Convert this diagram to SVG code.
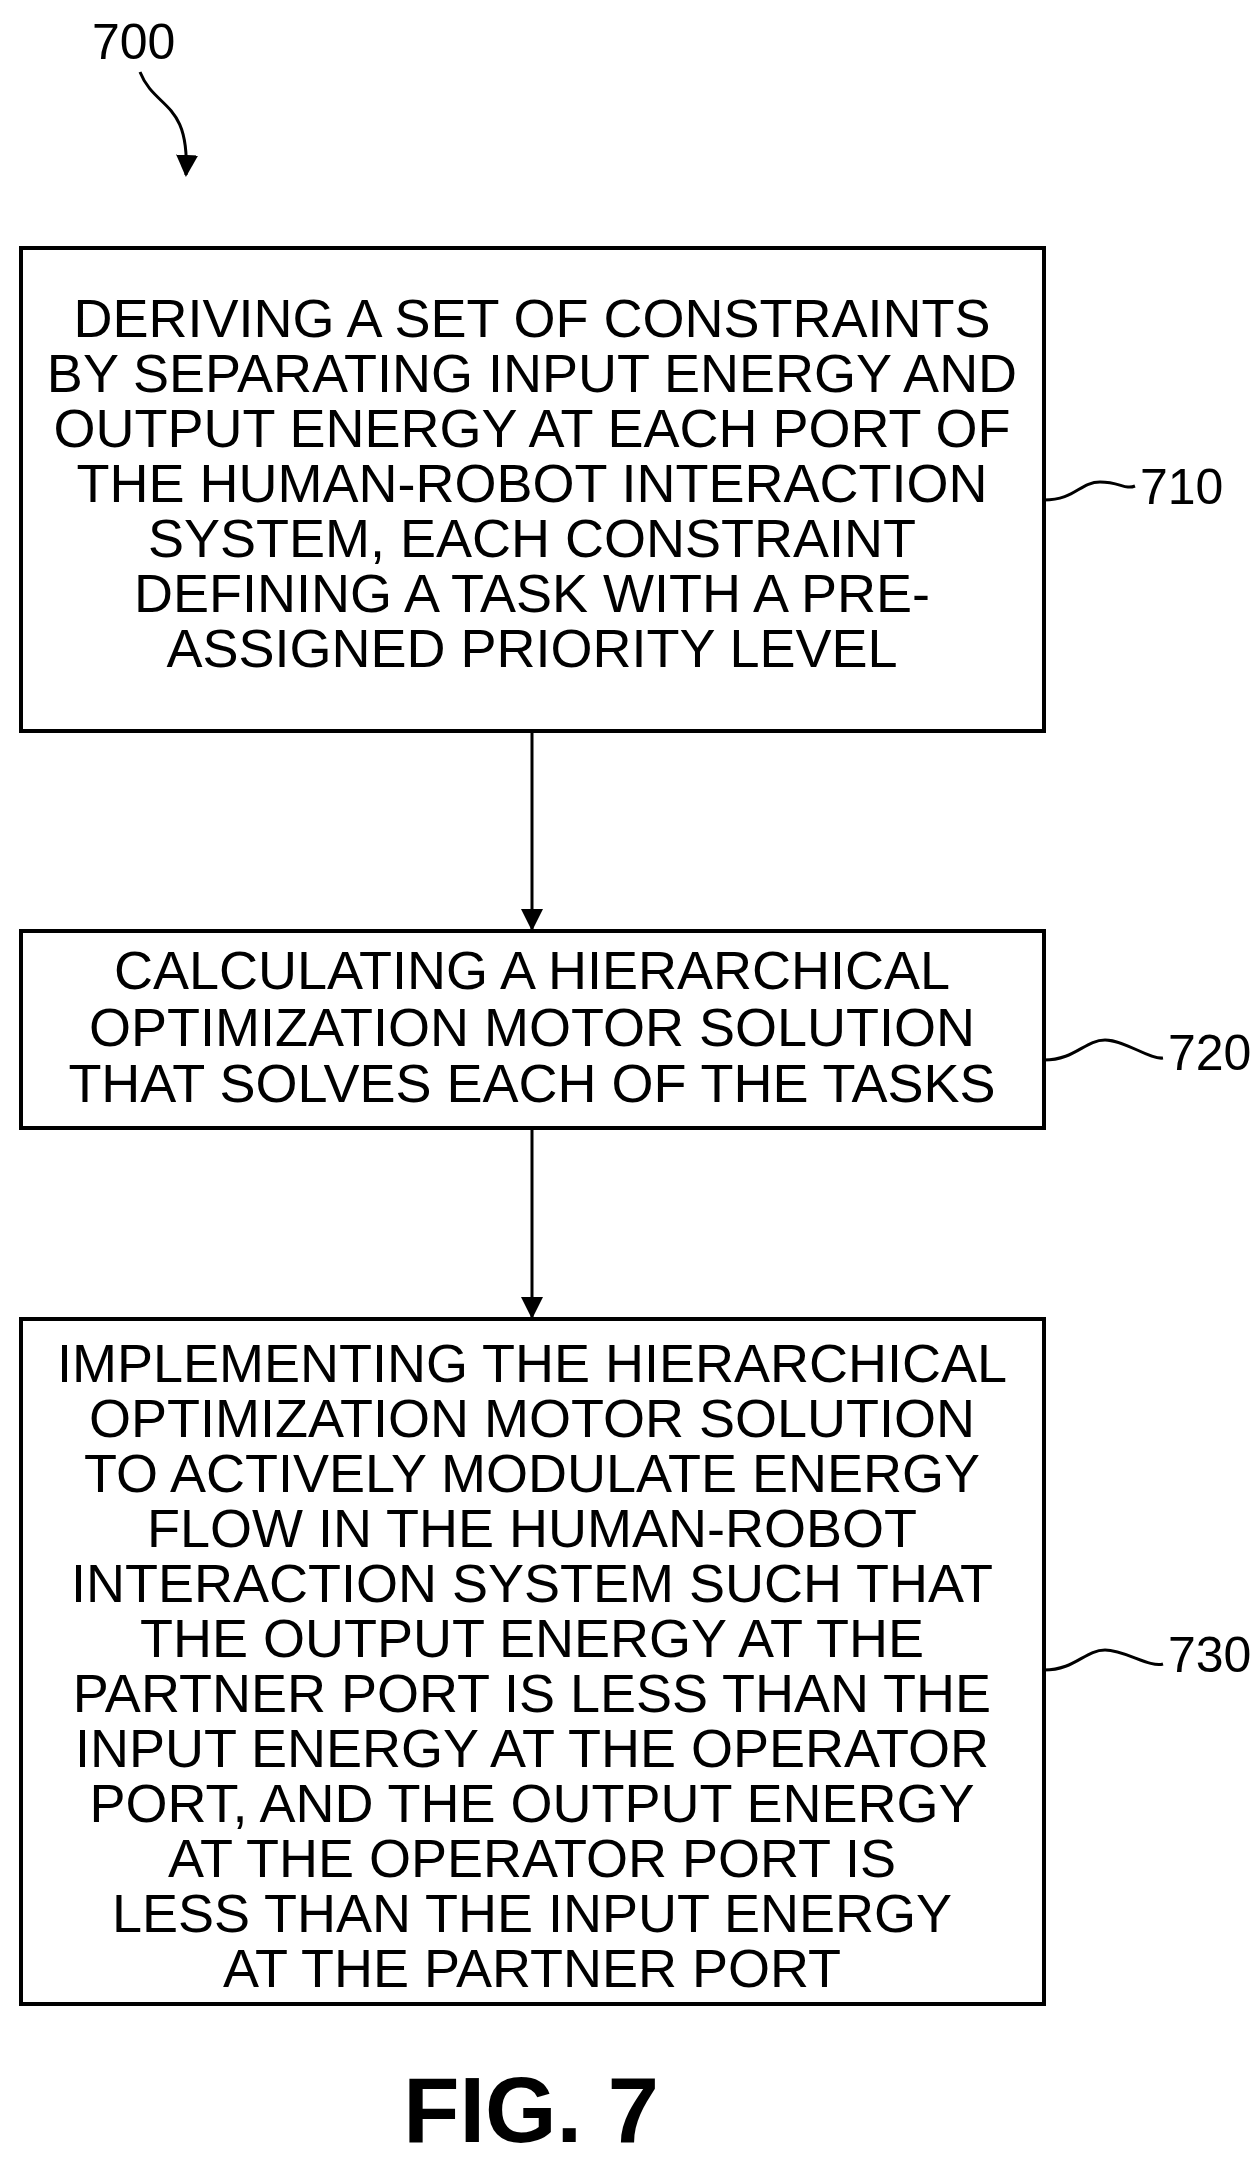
<svg xmlns="http://www.w3.org/2000/svg" width="1254" height="2171" viewBox="0 0 1254 2171">
<style>
.b{fill:#fff;stroke:#000;stroke-width:4}
.t{font-family:"Liberation Sans",Arial,sans-serif;font-size:54px;text-anchor:middle;fill:#000}
.l{font-family:"Liberation Sans",Arial,sans-serif;font-size:50px;fill:#000}
.c{fill:none;stroke:#000;stroke-width:3}
</style>
<defs><marker id="a2" markerWidth="22" markerHeight="22" refX="20" refY="11" orient="auto" markerUnits="userSpaceOnUse" viewBox="0 0 22 22"><path d="M0,0L22,11L0,22z" fill="#000"/></marker></defs>
<text class="l" x="92" y="59">700</text>
<g id="n710"><rect class="b" x="21" y="248" width="1023" height="483"/>
<text class="t" x="532" y="337">DERIVING A SET OF CONSTRAINTS</text>
<text class="t" x="532" y="392">BY SEPARATING INPUT ENERGY AND</text>
<text class="t" x="532" y="447">OUTPUT ENERGY AT EACH PORT OF</text>
<text class="t" x="532" y="502">THE HUMAN-ROBOT INTERACTION</text>
<text class="t" x="532" y="557">SYSTEM, EACH CONSTRAINT</text>
<text class="t" x="532" y="612">DEFINING A TASK WITH A PRE-</text>
<text class="t" x="532" y="667">ASSIGNED PRIORITY LEVEL</text></g>
<text class="l" x="1140" y="504">710</text>
<g id="n720"><rect class="b" x="21" y="931" width="1023" height="197"/>
<text class="t" x="532" y="989">CALCULATING A HIERARCHICAL</text>
<text class="t" x="532" y="1046">OPTIMIZATION MOTOR SOLUTION</text>
<text class="t" x="532" y="1102">THAT SOLVES EACH OF THE TASKS</text></g>
<text class="l" x="1168" y="1070">720</text>
<g id="n730"><rect class="b" x="21" y="1319" width="1023" height="685"/>
<text class="t" x="532" y="1382">IMPLEMENTING THE HIERARCHICAL</text>
<text class="t" x="532" y="1437">OPTIMIZATION MOTOR SOLUTION</text>
<text class="t" x="532" y="1492">TO ACTIVELY MODULATE ENERGY</text>
<text class="t" x="532" y="1547">FLOW IN THE HUMAN-ROBOT</text>
<text class="t" x="532" y="1602">INTERACTION SYSTEM SUCH THAT</text>
<text class="t" x="532" y="1657">THE OUTPUT ENERGY AT THE</text>
<text class="t" x="532" y="1712">PARTNER PORT IS LESS THAN THE</text>
<text class="t" x="532" y="1767">INPUT ENERGY AT THE OPERATOR</text>
<text class="t" x="532" y="1822">PORT, AND THE OUTPUT ENERGY</text>
<text class="t" x="532" y="1877">AT THE OPERATOR PORT IS</text>
<text class="t" x="532" y="1932">LESS THAN THE INPUT ENERGY</text>
<text class="t" x="532" y="1987">AT THE PARTNER PORT</text></g>
<text class="l" x="1168" y="1672">730</text>
<text x="531" y="2142" style="font-family:'Liberation Sans',Arial,sans-serif;font-size:92px;font-weight:bold;text-anchor:middle">FIG. 7</text>
<g id="connectors">
<path class="c" d="M532,731V929" marker-end="url(#a2)"/>
<path class="c" d="M532,1128V1317" marker-end="url(#a2)"/>
<path class="c" d="M1044,500C1075,500 1080,482 1100,482S1125,490 1135,486"/>
<path class="c" d="M1044,1060C1075,1060 1085,1040 1105,1040S1150,1060 1163,1058"/>
<path class="c" d="M1044,1670C1075,1670 1085,1650 1105,1650S1150,1668 1163,1664"/>
<path class="c" d="M140,72C155,110 190,100 186,175" marker-end="url(#a2)"/>
</g>
</svg>
